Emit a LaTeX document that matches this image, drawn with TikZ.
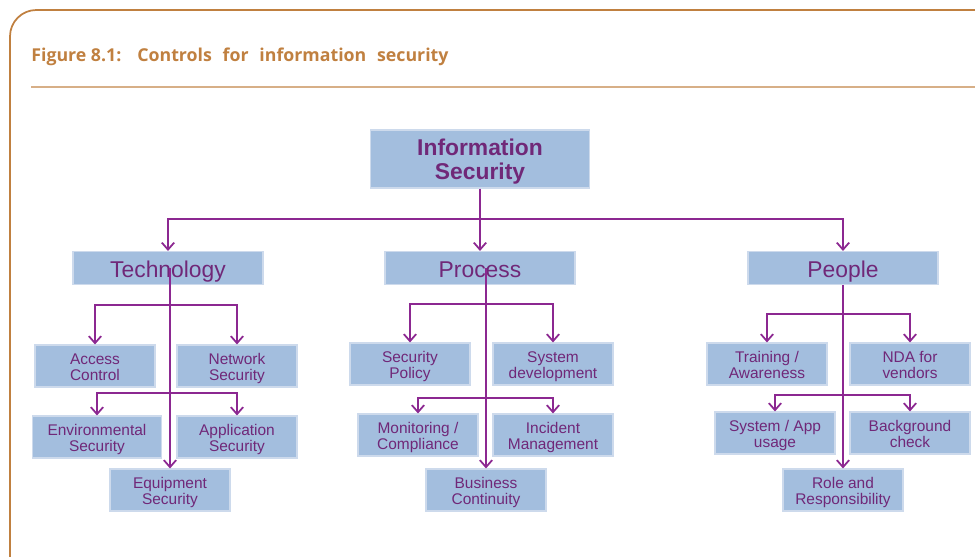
\documentclass[tikz,border=0pt]{standalone}
\usepackage{fontspec}
\setmainfont{Liberation Sans}
\newfontfamily\titlefont{Open Sans}
\usetikzlibrary{arrows.meta}

\definecolor{boxblue}{RGB}{163,190,222}
\definecolor{boxedge}{RGB}{205,218,236}
\definecolor{txtpurple}{RGB}{112,40,120}
\definecolor{linepurple}{RGB}{140,40,145}
\definecolor{frameorange}{RGB}{192,128,64}
\definecolor{ruleorange}{RGB}{215,175,135}

\begin{document}
\begin{tikzpicture}[x=0.02cm, y=-0.02cm,
  box/.style={draw=boxedge, line width=0.6pt, fill=boxblue, text=txtpurple,
    inner sep=0pt, align=center},
  mainbox/.style={box, minimum width=4.38cm, minimum height=1.16cm,
    font=\bfseries\fontsize{13}{14}\selectfont,
    execute at begin node={\rule[-3.2pt]{0pt}{30.2pt}}},
  areabox/.style={box, minimum width=3.8cm, minimum height=0.66cm,
    font=\fontsize{13}{14}\selectfont,
    execute at begin node={\rule[-3pt]{0pt}{16.4pt}}},
  leaf/.style={box, minimum width=2.4cm, minimum height=0.84cm,
    font=\fontsize{8.8}{8.8}\selectfont,
    execute at begin node={\rule[-2.2pt]{0pt}{20.8pt}}},
  link/.style={draw=linepurple, line width=0.8pt,
    -{Straight Barb[length=4pt, width=7pt, line width=1pt]}},
  trunk/.style={link, line width=1.1pt}]

  \useasboundingbox (0,0) rectangle (975,557);

  % --- frame and caption ---
  \draw[frameorange, line width=1pt, rounded corners=15]
    (10,560) -- (10,10) -- (980,10);
  \node[anchor=base west, text=frameorange, inner sep=0pt,
    font=\titlefont\bfseries\fontsize{10.1}{12}\selectfont]
    (caption) at (31,62) {Figure 8.1:\hspace{0.9em}Controls\hspace{0.35em} for\hspace{0.35em} information\hspace{0.35em} security};
  \draw[ruleorange, line width=0.7pt] (31,87) -- (975,87);

  % --- top level ---
  \node[mainbox] (info) at (480,159) {Information\\Security};
  \node[areabox] (tech) at (168,268) {Technology};
  \node[areabox] (proc) at (480,268) {Process};
  \node[areabox] (people) at (843,268) {People};

  % --- technology ---
  \node[leaf] (access) at (95,366) {Access\\Control};
  \node[leaf] (network) at (237,366) {Network\\Security};
  \node[leaf, minimum width=2.58cm] (environ) at (97,437) {Environmental\\Security};
  \node[leaf] (appsec) at (237,437) {Application\\Security};
  \node[leaf] (equip) at (170,490) {Equipment\\Security};

  % --- process ---
  \node[leaf] (policy) at (410,364) {Security\\Policy};
  \node[leaf] (sysdev) at (553,364) {System\\development};
  \node[leaf] (monitor) at (418,435) {Monitoring /\\Compliance};
  \node[leaf] (incident) at (553,435) {Incident\\Management};
  \node[leaf] (contin) at (486,490) {Business\\Continuity};

  % --- people ---
  \node[leaf] (training) at (767,364) {Training /\\Awareness};
  \node[leaf] (nda) at (910,364) {NDA for\\vendors};
  \node[leaf] (usage) at (775,433) {System / App\\usage};
  \node[leaf] (backgr) at (910,433) {Background\\check};
  \node[leaf] (role) at (843,490) {Role and\\Responsibility};

  % --- branch points ---
  \coordinate (hub) at (480,219);
  \coordinate (tb1) at (170,305);
  \coordinate (tb2) at (170,393);
  \coordinate (pb1) at (486,304);
  \coordinate (pb2) at (486,398);
  \coordinate (qb1) at (843,314);
  \coordinate (qb2) at (843,395);

  % --- connectors from the top ---
  \draw[draw=linepurple, line width=1.1pt] (info.south) -- (hub);
  \draw[link] (hub) -| (tech.north);
  \draw[link] (hub) -- (proc.north);
  \draw[link] (hub) -| (people.north);

  % --- technology connectors ---
  \draw[trunk] (tech.center -| equip.north) -- (equip.north);
  \draw[link] (tb1) -| (access.north);
  \draw[link] (tb1) -| (network.north);
  \draw[link] (tb2) -| (environ.north);
  \draw[link] (tb2) -| (appsec.north);

  % --- process connectors ---
  \draw[trunk] (proc.center -| contin.north) -- (contin.north);
  \draw[link] (pb1) -| (policy.north);
  \draw[link] (pb1) -| (sysdev.north);
  \draw[link] (pb2) -| (monitor.north);
  \draw[link] (pb2) -| (incident.north);

  % --- people connectors ---
  \draw[trunk] (people.south) -- (role.north);
  \draw[link] (qb1) -| (training.north);
  \draw[link] (qb1) -| (nda.north);
  \draw[link] (qb2) -| (usage.north);
  \draw[link] (qb2) -| (backgr.north);

\end{tikzpicture}
\end{document}
